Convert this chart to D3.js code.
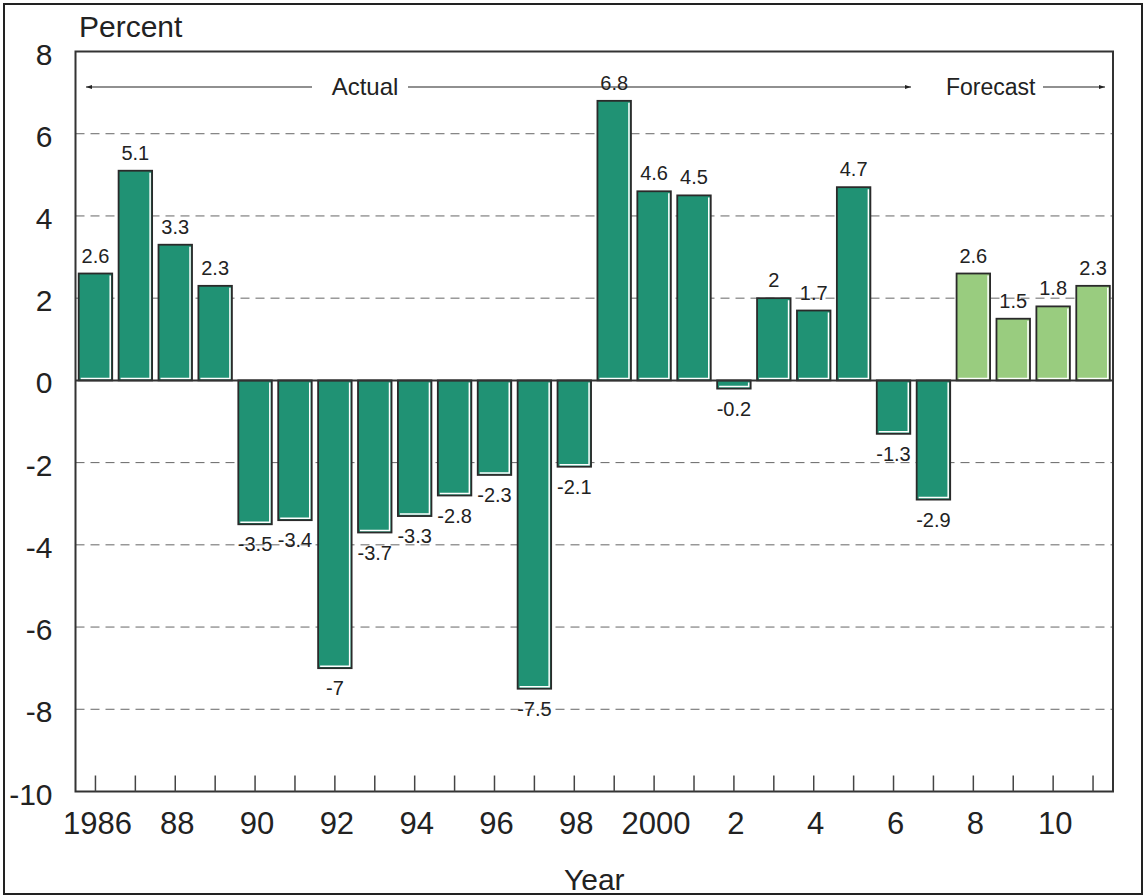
<!DOCTYPE html>
<html>
<head>
<meta charset="utf-8">
<script src="https://cdn.jsdelivr.net/npm/d3@7"></script>
<style>
  body { margin: 0; background: #fff; }
  svg { font-family: "Liberation Sans", Arial, sans-serif; }
</style>
</head>
<body>
<svg id="chart" width="1144" height="896"></svg>
<script>
// years and percent change
var years = [1986,1987,1988,1989,1990,1991,1992,1993,1994,1995,1996,1997,1998,1999,
             2000,2001,2002,2003,2004,2005,2006,2007,2008,2009,2010,2011];
var values = [2.6,5.1,3.3,2.3,-3.5,-3.4,-7,-3.7,-3.3,-2.8,-2.3,-7.5,-2.1,6.8,
              4.6,4.5,-0.2,2,1.7,4.7,-1.3,-2.9,2.6,1.5,1.8,2.3];
var forecastFrom = 2008;
var yTicks = [8,6,4,2,0,-2,-4,-6,-8,-10];
var yearLabels = {1986:"1986",1988:"88",1990:"90",1992:"92",1994:"94",1996:"96",1998:"98",
                  2000:"2000",2002:"2",2004:"4",2006:"6",2008:"8",2010:"10"};

var svg = d3.select("#chart");
var margin = {top: 51.5, right: 31, bottom: 104.5, left: 75.5};
var width = 1144, height = 896;
var plotW = width - margin.left - margin.right;
var plotH = height - margin.top - margin.bottom;

// outer frame
svg.append("rect").attr("x", 4).attr("y", 4).attr("width", width - 6).attr("height", height - 6)
  .attr("fill", "none").attr("stroke", "#222").attr("stroke-width", 2);

var x = d3.scaleBand().domain(years).range([0, plotW]).paddingInner(0.16).paddingOuter(0.08);
var y = d3.scaleLinear().domain([-10, 8]).range([plotH, 0]);

var plot = svg.append("g").attr("transform", "translate(" + margin.left + "," + margin.top + ")");

// dashed grid
plot.selectAll("line.grid")
  .data(yTicks.filter(function(d){ return d != 0 && d != 8 && d != -10; }))
  .enter().append("line")
  .attr("x1", 0).attr("x2", plotW)
  .attr("y1", function(d){ return y(d); }).attr("y2", function(d){ return y(d); })
  .attr("stroke", "#666").attr("stroke-width", 1).attr("stroke-dasharray", "9,6");

// bars
var bars = plot.selectAll("g.bar").data(values).enter().append("g");
bars.append("rect")
  .attr("x", function(d, i){ return x(years[i]); })
  .attr("y", function(d){ return y(Math.max(0, d)); })
  .attr("width", x.bandwidth())
  .attr("height", function(d){ return Math.abs(y(d) - y(0)); })
  .attr("fill", function(d, i){ return years[i] >= forecastFrom ? "#99cc7f" : "#209274"; })
  .attr("stroke", "#2a2a2a").attr("stroke-width", 1.8);
// white inner highlight on right and bottom edge
bars.append("path")
  .attr("d", function(d, i){
    var x0 = x(years[i]) + 2, x1 = x(years[i]) + x.bandwidth() - 2;
    var yt = y(Math.max(0, d)) + 2, yb = y(Math.min(0, d)) - 2;
    return "M" + x1 + "," + yt + "L" + x1 + "," + yb + "L" + x0 + "," + yb;
  })
  .attr("fill", "none").attr("stroke", "#fff").attr("stroke-width", 1.5);

// value labels
plot.selectAll("text.val").data(values).enter().append("text")
  .attr("x", function(d, i){ return x(years[i]) + x.bandwidth() / 2; })
  .attr("y", function(d){ return d >= 0 ? y(d) - 11 : y(d) + 27; })
  .attr("text-anchor", "middle")
  .style("font-size", "20px").attr("fill", "#222")
  .text(function(d){ return d; });

// zero line
plot.append("line").attr("x1", 0).attr("x2", plotW).attr("y1", y(0)).attr("y2", y(0))
  .attr("stroke", "#333").attr("stroke-width", 2);

// frame of plot
plot.append("rect").attr("x", 0).attr("y", 0).attr("width", plotW).attr("height", plotH)
  .attr("fill", "none").attr("stroke", "#333").attr("stroke-width", 2);

// x ticks
plot.selectAll("line.xt").data(years).enter().append("line")
  .attr("x1", function(d){ return x(d) + x.bandwidth() / 2; })
  .attr("x2", function(d){ return x(d) + x.bandwidth() / 2; })
  .attr("y1", plotH).attr("y2", plotH - 16)
  .attr("stroke", "#444").attr("stroke-width", 1.5);

plot.selectAll("text.xl").data(years.filter(function(d){ return yearLabels[d]; })).enter().append("text")
  .attr("x", function(d){ return x(d) + x.bandwidth() / 2 + 2; })
  .attr("y", plotH + 42)
  .attr("text-anchor", "middle")
  .style("font-size", "31px").attr("fill", "#222")
  .text(function(d){ return yearLabels[d]; });

// y tick labels
plot.selectAll("text.yl").data(yTicks).enter().append("text")
  .attr("x", -23).attr("y", function(d){ return y(d) + 13; })
  .attr("text-anchor", "end")
  .style("font-size", "30px").attr("fill", "#222")
  .text(function(d){ return d; });

// axis titles
svg.append("text").attr("x", 79).attr("y", 37).style("font-size", "30px").attr("fill", "#222").text("Percent");
svg.append("text").attr("x", margin.left + plotW / 2).attr("y", 890).attr("text-anchor", "middle")
  .style("font-size", "30px").attr("fill", "#222").text("Year");

// Actual / Forecast arrows
var defs = svg.append("defs");
defs.append("marker").attr("id", "arr").attr("viewBox", "0 0 10 10").attr("refX", 10).attr("refY", 5)
  .attr("markerWidth", 7).attr("markerHeight", 5).attr("orient", "auto-start-reverse")
  .append("path").attr("d", "M0,1.5L10,5L0,8.5Z").attr("fill", "#222");

var ay = 87;
svg.append("text").attr("x", 365).attr("y", ay + 8)
  .attr("text-anchor", "middle").style("font-size", "24px").attr("fill", "#222").text("Actual");
svg.append("line").attr("x1", 312).attr("x2", 86).attr("y1", ay).attr("y2", ay)
  .attr("stroke", "#222").attr("stroke-width", 1.2).attr("marker-end", "url(#arr)");
svg.append("line").attr("x1", 408).attr("x2", 911).attr("y1", ay).attr("y2", ay)
  .attr("stroke", "#222").attr("stroke-width", 1.2).attr("marker-end", "url(#arr)");
svg.append("text").attr("x", 946).attr("y", ay + 8)
  .style("font-size", "23px").attr("fill", "#222").text("Forecast");
svg.append("line").attr("x1", 1043).attr("x2", 1105).attr("y1", ay).attr("y2", ay)
  .attr("stroke", "#222").attr("stroke-width", 1.2).attr("marker-end", "url(#arr)");
</script>
</body>
</html>
